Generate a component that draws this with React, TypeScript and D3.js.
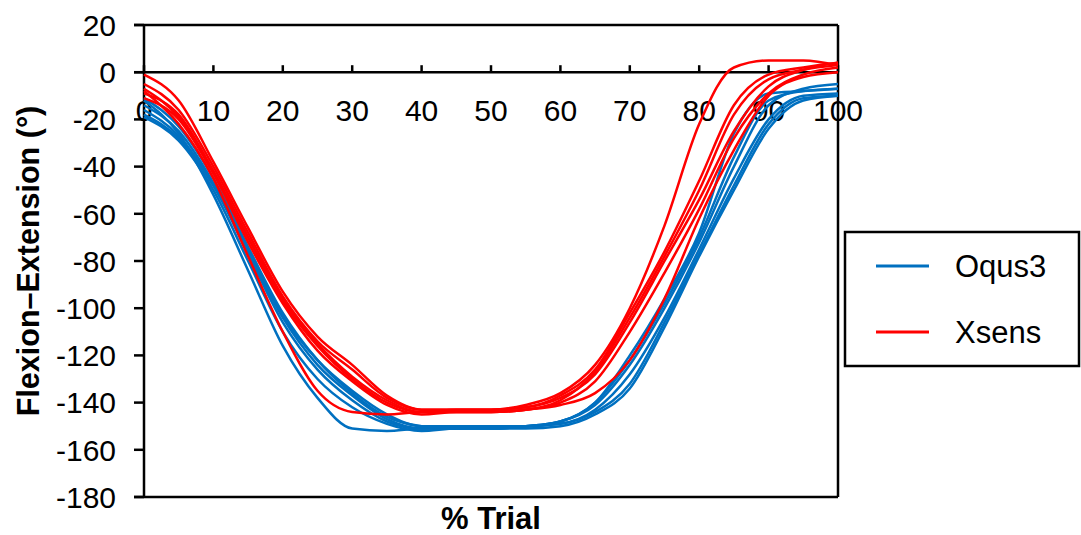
import React from "react";
import * as d3 from "d3";

const PCT = [0, 5, 10, 15, 20, 25, 30, 35, 40, 45, 50, 55, 60, 65, 70, 75, 80, 85, 90, 95, 100];

// Oqus3 trials (blue)
const OQUS1 = [-12, -26, -52, -84, -116, -138, -151, -152, -151, -151, -150, -150, -148, -140, -122, -98, -70, -36, -12, -8, -7];
const OQUS2 = [-14, -25, -47, -76, -104, -124, -137, -147, -151, -151, -151, -150, -148, -141, -124, -100, -72, -40, -14, -7, -5];
const OQUS3 = [-16, -27, -48, -77, -106, -126, -139, -148, -151, -150, -150, -150, -149, -143, -128, -104, -75, -45, -20, -10, -9];
const OQUS4 = [-18, -28, -48, -75, -103, -122, -135, -145, -150, -150, -150, -150, -149, -144, -132, -106, -77, -48, -22, -11, -10];
const OQUS5 = [-11, -23, -45, -74, -102, -122, -136, -146, -150, -151, -151, -150, -148, -140, -120, -96, -68, -26, -9, -8, -7];
const OQUS6 = [-19, -29, -50, -80, -110, -130, -142, -149, -152, -151, -151, -151, -150, -145, -134, -108, -78, -50, -24, -12, -10];

// Xsens trials (red)
const XSENS1 = [-8, -22, -45, -78, -110, -135, -144, -145, -144, -144, -144, -143, -141, -136, -122, -96, -62, -33, -10, -2, 0];
const XSENS2 = [-1, -12, -38, -66, -93, -112, -124, -137, -143, -143, -143, -141, -136, -124, -100, -65, -22, 2, 5, 5, 3];
const XSENS3 = [-5, -16, -40, -68, -95, -114, -126, -138, -143, -143, -143, -142, -138, -128, -106, -80, -54, -25, -6, 1, 4];
const XSENS4 = [-9, -18, -42, -70, -97, -116, -130, -140, -144, -144, -144, -143, -140, -131, -110, -85, -58, -28, -9, -1, 2];
const XSENS5 = [-11, -20, -43, -72, -98, -118, -131, -141, -145, -144, -144, -143, -139, -127, -104, -78, -50, -18, -3, 1, 3];
const XSENS6 = [-7, -19, -42, -70, -96, -115, -129, -139, -144, -143, -143, -142, -137, -126, -102, -76, -46, -14, -1, 2, 4];

const OQUS_SERIES = [OQUS1, OQUS2, OQUS3, OQUS4, OQUS5, OQUS6];
const XSENS_SERIES = [XSENS1, XSENS2, XSENS3, XSENS4, XSENS5, XSENS6];

const X_TICKS = [0, 10, 20, 30, 40, 50, 60, 70, 80, 90, 100];
const Y_TICKS = [20, 0, -20, -40, -60, -80, -100, -120, -140, -160, -180];

const LEGEND = [
  { label: "Oqus3", color: "#0070C0" },
  { label: "Xsens", color: "#FF0000" },
];

const BLUE = "#0070C0";
const RED = "#FF0000";

export default function App() {
  const W = 1081, H = 535;
  const left = 144, right = 838, top = 25, bottom = 497;
  const x = d3.scaleLinear().domain([0, 100]).range([left, right]);
  const y = d3.scaleLinear().domain([-180, 20]).range([bottom, top]);
  const line = d3
    .line<number>()
    .x((_, i) => x(PCT[i]))
    .y((d) => y(d))
    .curve(d3.curveMonotoneX);
  const font = "'Liberation Sans', Arial, sans-serif";
  const y0 = y(0);

  return (
    <div style={{ position: "absolute", left: 0, top: 0 }}>
      <svg width={W} height={H} style={{ display: "block", background: "#fff" }} fontFamily={font}>
        {/* frame */}
        <line x1={left - 10} x2={right} y1={top} y2={top} stroke="#000" strokeWidth={2.5} />
        <line x1={right} x2={right} y1={top} y2={bottom} stroke="#000" strokeWidth={2.5} />
        <line x1={left - 10} x2={right} y1={bottom} y2={bottom} stroke="#000" strokeWidth={2.5} />
        <line x1={left} x2={left} y1={top} y2={bottom} stroke="#000" strokeWidth={2.5} />
        {/* y ticks */}
        {Y_TICKS.map((t) => (
          <g key={t}>
            <line x1={left - 10} x2={left} y1={y(t)} y2={y(t)} stroke="#000" strokeWidth={2.5} />
            <text x={left - 28} y={y(t)} dy="0.36em" textAnchor="end" fontSize={30}>
              {t}
            </text>
          </g>
        ))}
        {/* x axis at 0 */}
        <line x1={left - 10} x2={right} y1={y0} y2={y0} stroke="#000" strokeWidth={2.5} />
        {X_TICKS.map((t) => (
          <g key={t}>
            <line x1={x(t)} x2={x(t)} y1={y0} y2={y0 - 7} stroke="#000" strokeWidth={2.5} />
            <text x={x(t)} y={y0 + 49} textAnchor="middle" fontSize={30}>
              {t}
            </text>
          </g>
        ))}
        {/* series */}
        {OQUS_SERIES.map((s, i) => (
          <path key={"o" + i} d={line(s) || ""} fill="none" stroke={BLUE} strokeWidth={2.5} />
        ))}
        {XSENS_SERIES.map((s, i) => (
          <path key={"x" + i} d={line(s) || ""} fill="none" stroke={RED} strokeWidth={2.5} />
        ))}
        {/* axis titles */}
        <text x={(left + right) / 2} y={529} textAnchor="middle" fontSize={31} fontWeight="bold">
          % Trial
        </text>
        <text
          transform={`translate(39, ${(top + bottom) / 2}) rotate(-90)`}
          textAnchor="middle"
          fontSize={30.5}
          fontWeight="bold"
        >
          Flexion–Extension (°)
        </text>
        {/* legend */}
        <rect x={845} y={232} width={234} height={134} fill="#fff" stroke="#000" strokeWidth={2.5} />
        {LEGEND.map((l, i) => (
          <g key={l.label}>
            <line x1={876} x2={929} y1={266 + i * 66} y2={266 + i * 66} stroke={l.color} strokeWidth={3} />
            <text x={955} y={266 + i * 66} dy="0.36em" fontSize={31}>
              {l.label}
            </text>
          </g>
        ))}
      </svg>
    </div>
  );
}
